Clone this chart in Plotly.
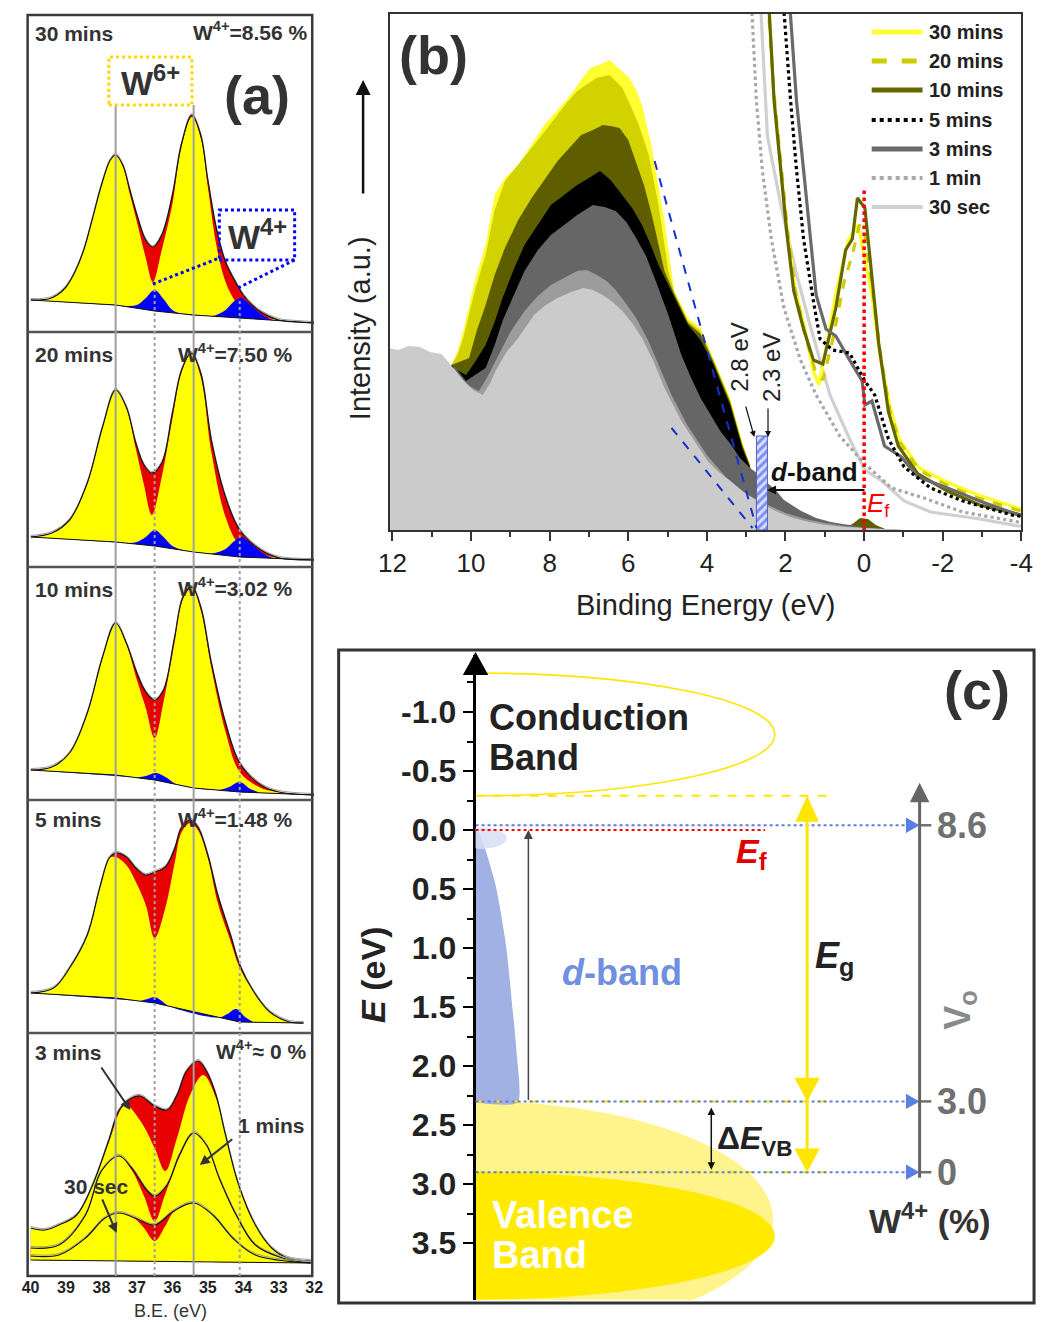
import plotly.graph_objects as go

W, H = 1048, 1322
FONT = "Liberation Sans, Arial, sans-serif"

def X(px):
    return px / W

def Y(py):
    return 1 - py / H

# ======================= DATA =======================
# ---------- Panel (a): W 4f XPS (B.E. in eV, intensity a.u.) ----------
# 30 mins
A30M_ENV_E = [40.0, 39.75, 39.5, 39.25, 39.0, 38.75, 38.5, 38.25, 38.0, 37.75, 37.6, 37.4, 37.2, 37.0, 36.75, 36.55, 36.3, 36.0, 35.75, 35.45, 35.2, 35.0, 34.75, 34.5, 34.25, 34.0, 33.75, 33.5, 33.0, 32.5, 32.0]
A30M_ENV_I = [32, 32, 33, 37, 45, 60, 82, 114, 147, 172, 177, 167, 142, 117, 92, 85, 97, 137, 187, 217, 197, 152, 102, 70, 52, 37, 27, 20, 12, 10, 9]
A30M_W6_I = [32, 32, 33, 37, 45, 60, 82, 114, 147, 172, 177, 166, 138, 110, 74, 50, 82, 128, 184, 215, 194, 145, 85, 50, 32, 22, 17, 15, 12, 10, 9]
A30M_BASE_E = [40.0, 37.6, 36.5, 35.4, 34.1, 33.0, 32.0]
A30M_BASE_I = [32, 27, 21, 17, 14, 11, 9]
A30M_W4_E = [37.3, 37.0, 36.75, 36.5, 36.25, 36.0, 35.7, 35.0, 34.8, 34.5, 34.25, 34.05, 33.8, 33.5, 33.2, 32.9]
A30M_W4_I = [26, 27, 34, 42, 33, 22, 18, 16, 16.5, 22, 31, 34, 27, 18, 12.5, 11]
# 20 mins
A20M_ENV_E = [40.0, 39.4, 38.9, 38.4, 37.97, 37.6, 37.3, 37.03, 36.8, 36.58, 36.3, 36.0, 35.74, 35.47, 35.2, 34.9, 34.5, 34.1, 33.5, 32.97, 32.0]
A20M_ENV_I = [30, 34, 47, 84, 140, 177, 160, 124, 102, 94, 104, 154, 197, 214, 194, 127, 70, 37, 17, 9, 7]
A20M_W6_I = [30, 34, 47, 84, 140, 177, 159, 118, 82, 52, 90, 148, 195, 213, 190, 115, 50, 22, 13, 9, 7]
A20M_BASE_E = [40.0, 37.6, 36.5, 35.4, 34.1, 32.0]
A20M_BASE_I = [30, 25, 21, 15, 10, 7]
A20M_W4_E = [37.3, 37.0, 36.75, 36.5, 36.25, 36.0, 35.7, 35.0, 34.8, 34.5, 34.25, 34.05, 33.8, 33.5, 33.2, 32.9]
A20M_W4_I = [24, 25, 30, 37, 30, 21, 17, 13.5, 14, 18, 26, 30, 24, 15, 9.5, 8]
# 10 mins
A10M_ENV_E = [40.0, 39.4, 38.9, 38.4, 37.97, 37.6, 37.3, 37.0, 36.75, 36.5, 36.25, 35.95, 35.7, 35.45, 35.2, 34.9, 34.5, 34.1, 33.5, 33.0, 32.0]
A10M_ENV_I = [30, 33, 47, 87, 143, 177, 157, 127, 108, 100, 110, 160, 203, 213, 193, 137, 77, 37, 15, 8, 5]
A10M_W6_I = [30, 33, 47, 87, 143, 177, 156, 120, 92, 62, 98, 155, 201, 212, 190, 132, 68, 28, 12, 8, 5]
A10M_BASE_E = [40.0, 37.6, 36.5, 35.4, 34.1, 32.0]
A10M_BASE_I = [30, 25, 20, 12, 8, 5]
A10M_W4_E = [37.0, 36.75, 36.45, 36.15, 35.9, 34.7, 34.4, 34.1, 33.8, 33.5]
A10M_W4_I = [22.5, 24, 27, 22, 16, 10, 13, 18, 11, 7]
# 5 mins
A5M_ENV_E = [40.0, 39.35, 38.9, 38.4, 38.05, 37.78, 37.6, 37.3, 37.03, 36.75, 36.5, 36.2, 35.93, 35.75, 35.5, 35.28, 35.0, 34.72, 34.36, 34.1, 33.7, 33.25, 32.7, 32.3]
A5M_ENV_I = [40, 45, 65, 98, 145, 175, 180, 176, 165, 158, 161, 166, 185, 205, 213, 206, 178, 138, 98, 68, 41, 21, 11, 10]
A5M_W6_I = [40, 45, 65, 98, 145, 175, 176, 168, 151, 128, 95, 125, 171, 200, 210, 203, 175, 130, 92, 65, 41, 21, 11, 10]
A5M_BASE_E = [40.0, 37.6, 36.5, 35.4, 34.1, 32.3]
A5M_BASE_I = [40, 35, 30, 21, 11, 10]
A5M_W4_E = [36.9, 36.7, 36.5, 36.3, 36.1, 34.7, 34.45, 34.2, 33.95, 33.7]
A5M_W4_I = [32, 34, 36, 32, 27, 15.5, 19, 24, 16, 10.5]
# 3 mins / 1 min / 30 sec (same sub-panel)
ALOW_BASE_E = [40.0, 32.1]
ALOW_BASE_I = [16, 13]
A3M_ENV_E = [40.0, 39.6, 39.2, 38.7, 38.25, 37.8, 37.5, 37.15, 36.9, 36.5, 36.15, 35.87, 35.6, 35.27, 35.04, 34.77, 34.5, 34.13, 33.66, 33.2, 32.75, 32.1]
A3M_ENV_I = [48, 46, 51, 61, 91, 135, 166, 178, 180, 170, 166, 181, 205, 215, 205, 181, 141, 91, 51, 28, 18, 15]
A3M_W6_E = [40.0, 39.6, 39.2, 38.7, 38.25, 37.8, 37.33, 36.9, 36.5, 36.2, 35.87, 35.5, 35.13, 34.77, 34.5, 34.13, 33.66, 33.2, 32.75, 32.1]
A3M_W6_I = [48, 46, 51, 61, 91, 133, 171, 155, 128, 105, 138, 181, 201, 178, 141, 91, 51, 28, 18, 15]
A1M_ENV_E = [40.0, 39.2, 38.45, 38.0, 37.5, 37.15, 36.7, 36.5, 36.15, 35.8, 35.4, 35.04, 34.68, 34.2, 33.66, 32.9, 32.1]
A1M_ENV_I = [28, 31, 61, 105, 120, 108, 85, 80, 91, 121, 143, 131, 98, 61, 31, 18, 13]
A1M_W6_E = [40.0, 39.2, 38.45, 38.0, 37.5, 37.15, 36.8, 36.5, 36.2, 35.8, 35.4, 35.04, 34.68, 34.2, 33.66, 32.9, 32.1]
A1M_W6_I = [28, 31, 61, 105, 120, 106, 80, 55, 82, 119, 143, 131, 98, 61, 31, 18, 13]
A30S_ENV_E = [40.0, 39.2, 38.45, 37.9, 37.5, 37.05, 36.5, 35.96, 35.4, 34.86, 34.3, 33.66, 32.1]
A30S_ENV_I = [20, 21, 38, 58, 63, 58, 51, 65, 73, 61, 38, 21, 13]
A30S_W6_E = [40.0, 39.2, 38.45, 37.9, 37.5, 37.05, 36.8, 36.5, 36.2, 35.96, 35.4, 34.86, 34.3, 33.66, 32.1]
A30S_W6_I = [20, 21, 38, 58, 63, 57, 48, 35, 50, 64, 73, 61, 38, 21, 13]

A_W6_POS = [37.6, 35.4]     # W6+ peak reference lines (solid)
A_W4_POS = [36.5, 34.1]     # W4+ peak reference lines (dotted)
A_TICKS = [40, 39, 38, 37, 36, 35, 34, 33, 32]
A_LABELS = ["30 mins", "20 mins", "10 mins", "5 mins", "3 mins"]
A_W4_TEXT = ["W<sup>4+</sup>=8.56 %", "W<sup>4+</sup>=7.50 %", "W<sup>4+</sup>=3.02 %",
             "W<sup>4+</sup>=1.48 %", "W<sup>4+</sup>\u2248 0 %"]

# ---------- Panel (b): valence-band spectra ----------
B_30S_E = [12.1, 11.85, 11.6, 11.3, 11.05, 10.75, 10.45, 10.2, 9.95, 9.7, 9.5, 9.38, 9.1, 8.8, 8.4, 8.1, 7.8, 7.45, 7.15, 6.9, 6.65, 6.4, 6.15, 5.9, 5.65, 5.35, 5.08, 4.65, 4.3, 3.98, 3.7, 3.4, 3.1, 2.84, 2.5, 2.2, 1.8, 1.4, 1.0, 0.5, 0.0, -0.5, -1.0, -4.1]
B_30S_I = [182, 180, 184, 183, 178, 176, 162, 150, 140, 135, 148, 159, 178, 192, 215, 225, 232, 238, 242, 240, 235, 228, 219, 207, 192, 168, 142, 109, 88, 69, 58, 49, 39, 32, 24, 18, 12, 8, 5, 3, 2, 1, 0, 0]
B_1M_E = [10.45, 10.2, 9.95, 9.8, 9.6, 9.3, 9.0, 8.64, 8.3, 7.97, 7.6, 7.3, 7.05, 6.8, 6.55, 6.3, 6.05, 5.8, 5.5, 5.2, 4.9, 4.5, 4.0, 3.5, 3.0, 2.5, 2.0, 1.5, 1.0, 0.5, 0.0, -0.8]
B_1M_I = [162, 148, 142, 139, 152, 175, 198, 219, 234, 245, 253, 259, 260, 255, 249, 239, 226, 212, 190, 163, 135, 105, 75, 52, 36, 26, 17, 11, 7, 4, 2, 0]
B_3M_E = [10.45, 10.13, 9.9, 9.63, 9.4, 9.2, 8.9, 8.64, 8.3, 7.97, 7.6, 7.3, 6.9, 6.6, 6.32, 6.05, 5.8, 5.55, 5.33, 4.98, 4.65, 4.4, 4.16, 3.9, 3.66, 3.4, 3.16, 2.9, 2.66, 2.46, 2.25, 2.04, 1.6, 1.22, 0.85, 0.55, 0.2, 0.0, -0.5, -1.0]
B_3M_I = [165, 149, 155, 162, 185, 209, 236, 259, 280, 295, 306, 315, 325, 323, 319, 308, 292, 274, 252, 215, 175, 152, 132, 115, 99, 86, 72, 62, 55, 47, 40, 30, 19, 12, 8, 6, 4, 3, 1, 0]
B_5M_E = [10.5, 10.35, 10.13, 9.9, 9.63, 9.4, 9.2, 8.9, 8.64, 8.3, 7.97, 7.6, 7.3, 7.0, 6.72, 6.45, 6.15, 5.9, 5.65, 5.45, 5.23, 4.9, 4.48, 4.16, 3.83, 3.41, 3.1, 2.9, 2.85]
B_5M_I = [165, 160, 155, 168, 185, 208, 232, 262, 285, 306, 325, 336, 345, 352, 359, 350, 335, 322, 305, 287, 265, 239, 205, 190, 165, 125, 82, 62, 0]
B_10M_E = [10.5, 10.3, 10.05, 9.85, 9.63, 9.4, 9.14, 8.8, 8.46, 8.1, 7.8, 7.5, 7.2, 6.9, 6.65, 6.45, 6.22, 6.0, 5.82, 5.6, 5.4, 5.08, 4.83, 4.48, 4.16, 3.83, 3.41, 3.1, 2.9, 2.85, 0.6, 0.3, 0.1, -0.1, -0.3, -0.6]
B_10M_I = [165, 168, 172, 200, 225, 255, 282, 310, 332, 352, 369, 382, 395, 400, 405, 404, 402, 390, 369, 345, 315, 259, 236, 207, 196, 168, 128, 85, 64, 0, 0, 6, 12, 11, 5, 0]
B_20M_E = [10.5, 10.35, 10.2, 9.9, 9.63, 9.4, 9.14, 8.8, 8.46, 8.1, 7.8, 7.55, 7.3, 7.05, 6.82, 6.47, 6.15, 5.95, 5.73, 5.48, 5.23, 4.98, 4.83, 4.48, 4.16, 3.83, 3.41, 3.1, 2.9, 2.85]
B_20M_I = [165, 175, 192, 240, 275, 320, 349, 365, 382, 400, 415, 428, 439, 446, 452, 455, 442, 425, 405, 375, 325, 259, 238, 209, 199, 170, 130, 86, 65, 0]
B_30M_E = [10.5, 10.35, 10.2, 9.9, 9.63, 9.4, 9.14, 8.8, 8.47, 8.14, 7.8, 7.47, 7.2, 6.97, 6.7, 6.47, 6.2, 5.97, 5.8, 5.65, 5.4, 5.2, 5.08, 4.83, 4.48, 4.16, 3.83, 3.41, 3.1, 2.9, 2.85]
B_30M_I = [165, 178, 199, 250, 285, 335, 352, 365, 385, 405, 420, 435, 450, 462, 466, 470, 460, 452, 440, 425, 382, 335, 309, 239, 212, 202, 172, 132, 88, 65, 0]

# magnified near-Ef traces
L_30M_E = [2.43, 2.3, 2.12, 1.95, 1.75, 1.5, 1.3, 1.15, 1.0, 0.7, 0.4, 0.15, 0.0, -0.2, -0.4, -0.65, -0.9, -1.4, -2.1, -2.9, -3.9, -4.1]
L_30M_I = [530, 435, 362, 298, 240, 200, 160, 145, 175, 240, 290, 305, 275, 235, 175, 125, 90, 62, 48, 35, 22, 20]
L_20M_E = [2.45, 2.3, 2.12, 1.95, 1.75, 1.5, 1.25, 1.05, 0.8, 0.5, 0.3, 0.12, 0.0, -0.2, -0.4, -0.65, -0.9, -1.4, -2.1, -2.9, -3.9, -4.1]
L_20M_I = [530, 440, 368, 300, 240, 195, 160, 150, 190, 250, 275, 305, 300, 245, 180, 120, 88, 60, 45, 32, 20, 18]
L_10M_E = [2.43, 2.29, 2.12, 1.97, 1.79, 1.54, 1.29, 1.05, 0.72, 0.47, 0.3, 0.17, -0.02, -0.2, -0.37, -0.62, -0.87, -1.37, -2.12, -2.94, -3.93, -4.1]
L_10M_I = [530, 429, 360, 298, 239, 201, 170, 166, 222, 280, 291, 332, 322, 256, 187, 118, 84, 56, 39, 25, 15, 14]
L_5M_E = [2.06, 1.87, 1.72, 1.54, 1.29, 1.12, 0.8, 0.37, -0.02, -0.27, -0.62, -1.02, -1.69, -2.51, -3.76, -4.1]
L_5M_I = [530, 429, 360, 291, 229, 191, 180, 177, 149, 135, 91, 63, 42, 29, 15, 13]
L_3M_E = [1.9, 1.72, 1.54, 1.37, 1.22, 0.97, 0.72, 0.37, 0.05, -0.02, -0.2, -0.52, -0.95, -1.37, -2.12, -2.94, -3.93, -4.1]
L_3M_I = [530, 429, 360, 291, 235, 201, 194, 170, 149, 125, 129, 84, 73, 53, 42, 29, 15, 14]
L_1M_E = [2.87, 2.74, 2.59, 2.36, 2.04, 1.62, 1.22, 0.62, -0.02, -0.7, -1.52, -2.51, -3.93, -4.1]
L_1M_I = [530, 429, 360, 291, 222, 170, 135, 94, 66, 42, 32, 18, 8, 7]
L_30S_E = [2.64, 2.46, 2.12, 1.72, 1.37, 0.87, 0.37, -0.02, -0.45, -1.02, -1.69, -2.94, -3.93, -4.1]
L_30S_I = [530, 394, 325, 256, 204, 135, 91, 60, 49, 29, 18, 11, 4, 4]

B_SERIES = ["30 mins", "20 mins", "10 mins", "5 mins", "3 mins", "1 min", "30 sec"]
B_FILL_COLORS = ["#ffff33", "#d2d200", "#5e5e00", "#000000", "#666666", "#9c9c9c", "#cbcbcb"]
B_LINE_COLORS = ["#ffff22", "#cccc00", "#666600", "#000000", "#6a6a6a", "#a8a8a8", "#d0d0d0"]
B_LINE_DASH = ["solid", "dash", "solid", "dot", "solid", "dot", "solid"]
B_TICKS = [12, 10, 8, 6, 4, 2, 0, -2, -4]
B_DBAND_E = [2.74, 2.46]      # hatched d-band onset window
B_DBAND_TOP = 94
B_EDGE1_E = [5.33, 2.74]      # leading-edge extrapolations
B_EDGE1_I = [369, 2]
B_EDGE2_E = [4.90, 2.84]
B_EDGE2_I = [102, 2]
B_EF_TOP = 340

# ---------- Panel (c): band diagram (E in eV, x = DOS a.u.) ----------
C_TICKS = [-1.0, -0.5, 0.0, 0.5, 1.0, 1.5, 2.0, 2.5, 3.0, 3.5]
C_CB = dict(top=-1.33, bottom=-0.29, width=306)
C_VB_LIGHT = dict(top=2.30, center=3.30, width=304)
C_VB_DARK = dict(top=2.90, center=3.44, width=306)
C_DBAND_X = [0, 4, 20, 31, 38, 42, 43, 0]
C_DBAND_E = [0.0, 0.03, 0.45, 0.97, 1.53, 1.89, 2.31, 2.31]
C_EF = 0.0
C_CBM = -0.29
C_LEVELS_E = [-0.04, 2.30, 2.90]        # dotted blue levels
C_W4_LABELS = ["8.6", "3.0", "0"]
C_VBM = [2.30, 2.90]

# ======================= FIGURE =======================
fig = go.Figure()

A_SUB = [("y", 15, 332), ("y2", 332, 567), ("y3", 567, 800), ("y4", 800, 1033), ("y5", 1033, 1276)]

RED = "#e80000"
YEL = "#ffff00"
BLU = "#0000ff"


def hidden(xs, ys, yref):
    fig.add_trace(go.Scatter(x=xs, y=ys, mode="lines", line=dict(width=0, color="rgba(0,0,0,0)"),
                             xaxis="x", yaxis=yref, showlegend=False, hoverinfo="skip"))


def filled(xs, ys, color, yref, bE, bI, shape="spline"):
    hidden(bE, bI, yref)
    fig.add_trace(go.Scatter(x=xs, y=ys, mode="lines", line=dict(width=0, color=color, shape=shape),
                             fill="tonexty", fillcolor=color, xaxis="x", yaxis=yref,
                             showlegend=False, hoverinfo="skip"))


def line(xs, ys, yref, color="#111", width=1.2, shape="spline"):
    fig.add_trace(go.Scatter(x=xs, y=ys, mode="lines", line=dict(width=width, color=color, shape=shape),
                             xaxis="x", yaxis=yref, showlegend=False, hoverinfo="skip"))


A_STD = [
    (A30M_ENV_E, A30M_ENV_I, A30M_ENV_E, A30M_W6_I, A30M_BASE_E, A30M_BASE_I, A30M_W4_E, A30M_W4_I),
    (A20M_ENV_E, A20M_ENV_I, A20M_ENV_E, A20M_W6_I, A20M_BASE_E, A20M_BASE_I, A20M_W4_E, A20M_W4_I),
    (A10M_ENV_E, A10M_ENV_I, A10M_ENV_E, A10M_W6_I, A10M_BASE_E, A10M_BASE_I, A10M_W4_E, A10M_W4_I),
    (A5M_ENV_E, A5M_ENV_I, A5M_ENV_E, A5M_W6_I, A5M_BASE_E, A5M_BASE_I, A5M_W4_E, A5M_W4_I),
]
for k, (eE, eI, wE, wI, bE, bI, fE, fI) in enumerate(A_STD):
    yref = A_SUB[k][0]
    filled(eE, eI, RED, yref, bE, bI)
    filled(wE, wI, YEL, yref, bE, bI)
    filled(fE, fI, BLU, yref, bE, bI)
    line(eE, [v + 1.5 for v in eI], yref, color="#9a9a9a", width=1)
    line(eE, eI, yref, color="#111", width=1.2)
    line(bE, bI, yref, color="#111", width=1.0, shape="linear")

LOW = [(A3M_ENV_E, A3M_ENV_I, A3M_W6_E, A3M_W6_I),
       (A1M_ENV_E, A1M_ENV_I, A1M_W6_E, A1M_W6_I),
       (A30S_ENV_E, A30S_ENV_I, A30S_W6_E, A30S_W6_I)]
for eE, eI, wE, wI in LOW:
    filled(eE, eI, RED, "y5", ALOW_BASE_E, ALOW_BASE_I)
    filled(wE, wI, YEL, "y5", ALOW_BASE_E, ALOW_BASE_I)
for eE, eI, wE, wI in LOW:
    line(eE, [v + 1.5 for v in eI], "y5", color="#9a9a9a", width=1)
    line(eE, eI, "y5", color="#111", width=1.2)
line(ALOW_BASE_E, ALOW_BASE_I, "y5", color="#111", width=1.0, shape="linear")

# ---------- panel (b) traces ----------
B_FILLS = [(B_30M_E, B_30M_I), (B_20M_E, B_20M_I), (B_10M_E, B_10M_I), (B_5M_E, B_5M_I),
           (B_3M_E, B_3M_I), (B_1M_E, B_1M_I), (B_30S_E, B_30S_I)]
for (e, i), c in zip(B_FILLS, B_FILL_COLORS):
    fig.add_trace(go.Scatter(x=e, y=i, mode="lines", line=dict(width=0, color=c), fill="tozeroy",
                             fillcolor=c, xaxis="x2", yaxis="y6", showlegend=False, hoverinfo="skip"))

fig.add_trace(go.Scatter(
    x=[B_DBAND_E[0], B_DBAND_E[1], B_DBAND_E[1], B_DBAND_E[0], B_DBAND_E[0]],
    y=[0, 0, B_DBAND_TOP, B_DBAND_TOP, 0], mode="lines", fill="toself",
    fillcolor="#dfe5ff",
    fillpattern=dict(shape="/", fgcolor="#1f3cf0", bgcolor="#d8e0ff", size=6, solidity=0.5),
    line=dict(color="#5060c0", width=1), xaxis="x2", yaxis="y6", showlegend=False, hoverinfo="skip"))

B_LINES = [(L_30M_E, L_30M_I), (L_20M_E, L_20M_I), (L_10M_E, L_10M_I), (L_5M_E, L_5M_I),
           (L_3M_E, L_3M_I), (L_1M_E, L_1M_I), (L_30S_E, L_30S_I)]
order = [6, 5, 0, 1, 2, 4, 3]
for j in order:
    e, i = B_LINES[j]
    fig.add_trace(go.Scatter(x=e, y=i, mode="lines",
                             line=dict(width=3.2, color=B_LINE_COLORS[j], dash=B_LINE_DASH[j]),
                             xaxis="x2", yaxis="y6", showlegend=False, hoverinfo="skip"))

# ---------- panel (c) traces ----------
fig.add_trace(go.Scatter(x=C_DBAND_X, y=C_DBAND_E, mode="lines", fill="toself", fillcolor="#a1b1e4",
                         line=dict(width=0, color="#a1b1e4", shape="spline", smoothing=0.6),
                         xaxis="x3", yaxis="y7", showlegend=False, hoverinfo="skip"))

# ======================= SHAPES =======================
shapes = []


def pline(x0, y0, x1, y1, color, width, dash="solid", layer="above"):
    shapes.append(dict(type="line", xref="paper", yref="paper", x0=X(x0), y0=Y(y0), x1=X(x1), y1=Y(y1),
                       line=dict(color=color, width=width, dash=dash), layer=layer))


# panel (a) frames
shapes.append(dict(type="rect", xref="paper", yref="paper", x0=X(17), x1=X(308), y0=Y(1276), y1=Y(15),
                   line=dict(color="#3a3a3a", width=2.5), layer="above"))
for _, top, bot in A_SUB[:-1]:
    pline(17, bot, 308, bot, "#555", 2.5)
# reference lines (a)
for e in A_W6_POS:
    shapes.append(dict(type="line", xref="x", yref="paper", x0=e, x1=e, y0=Y(1276), y1=Y(105),
                       line=dict(color="#a0a0a0", width=2), layer="above"))
for e, top in zip(A_W4_POS, [285, 300]):
    shapes.append(dict(type="line", xref="x", yref="paper", x0=e, x1=e, y0=Y(1276), y1=Y(top),
                       line=dict(color="#a0a0a0", width=2, dash="dot"), layer="above"))
# W6+ / W4+ boxes
shapes.append(dict(type="rect", xref="paper", yref="paper", x0=X(100), x1=X(185), y0=Y(105), y1=Y(57),
                   line=dict(color="#ffd800", width=3, dash="dot"), layer="above"))
shapes.append(dict(type="rect", xref="paper", yref="paper", x0=X(213), x1=X(290), y0=Y(260), y1=Y(210),
                   line=dict(color=BLU, width=3, dash="dot"), layer="above"))
pline(145, 284, 213, 258, BLU, 3, "dot")
pline(290, 260, 232, 288, BLU, 3, "dot")

# panel (b) helpers
shapes.append(dict(type="line", xref="x2", yref="y6", x0=0, x1=0, y0=0, y1=B_EF_TOP,
                   line=dict(color="#ff0000", width=3.5, dash="dot"), layer="above"))
for (e, i) in [(B_EDGE1_E, B_EDGE1_I), (B_EDGE2_E, B_EDGE2_I)]:
    shapes.append(dict(type="line", xref="x2", yref="y6", x0=e[0], x1=e[1], y0=i[0], y1=i[1],
                       line=dict(color="#1530d0", width=2, dash="dash"), layer="above"))

# legend (b)
LEG_Y = [32, 61, 90, 120, 149, 178, 207]
LEG_W = [5, 5, 5, 4, 5, 4, 4]
for j, ly in enumerate(LEG_Y):
    pline(880, ly, 932, ly, B_LINE_COLORS[j] if j != 0 else "#ffff33", LEG_W[j], B_LINE_DASH[j])

# panel (c) frame
shapes.append(dict(type="rect", xref="paper", yref="paper", x0=X(335), x1=X(1046), y0=Y(1303), y1=Y(650),
                   line=dict(color="#333", width=3), layer="above"))
# axis arrow head (c), paper coordinates so it is not clipped
shapes.append(dict(type="path", xref="paper", yref="paper",
                   path=f"M {X(475)},{Y(652)} L {X(462)},{Y(675)} L {X(488)},{Y(675)} Z",
                   fillcolor="#000", line=dict(width=0), layer="above"))
KAP = 0.5523


def half_ellipse(top, center, width):
    h = center - top
    return (f"M 0,{top} C {KAP*width},{top} {width},{center-KAP*h} {width},{center} "
            f"C {width},{center+KAP*h} {KAP*width},{center+h} 0,{center+h}")


shapes.append(dict(type="path", xref="x3", yref="y7",
                   path=half_ellipse(C_VB_LIGHT["top"], C_VB_LIGHT["center"], C_VB_LIGHT["width"]) + " Z",
                   fillcolor="#fff48c", line=dict(width=0), layer="below"))
shapes.append(dict(type="path", xref="x3", yref="y7",
                   path=half_ellipse(C_VB_DARK["top"], C_VB_DARK["center"], C_VB_DARK["width"]) + " Z",
                   fillcolor="#ffea00", line=dict(width=0), layer="below"))
cb_c = (C_CB["top"] + C_CB["bottom"]) / 2
shapes.append(dict(type="path", xref="x3", yref="y7",
                   path=half_ellipse(C_CB["top"], cb_c, C_CB["width"]),
                   line=dict(color="#ffe600", width=1.6), layer="below"))
shapes.append(dict(type="circle", xref="x3", yref="y7", x0=-20, x1=32, y0=-0.02, y1=0.16,
                   fillcolor="rgba(215,223,245,0.85)", line=dict(width=0), layer="above"))


def dline(x0, y0, x1, y1, color, width, dash="solid"):
    shapes.append(dict(type="line", xref="x3", yref="y7", x0=x0, y0=y0, x1=x1, y1=y1,
                       line=dict(color=color, width=width, dash=dash), layer="above"))


def tri(tipx, tipy, bx0, by0, bx1, by1, color):
    shapes.append(dict(type="path", xref="x3", yref="y7",
                       path=f"M {tipx},{tipy} L {bx0},{by0} L {bx1},{by1} Z",
                       fillcolor=color, line=dict(width=0), layer="above"))


dline(0, C_CBM, 359, C_CBM, "#ffe600", 2, "dash")
for e in C_VBM:
    dline(0, e, 359, e, "#ffe600", 2, "dash")
dline(0, C_EF, 296, C_EF, "#ff0000", 2, "dot")
for e in C_LEVELS_E:
    dline(0, e, 442, e, "#5b7fe0", 2, "dot")
    tri(454, e, 440, e - 0.065, 440, e + 0.065, "#5b7fe0")
    dline(454, e, 466, e, "#707070", 2.5)
# Eg arrow (yellow)
dline(339, C_CBM + 0.15, 339, C_VBM[1] - 0.1, "#ffe600", 3)
tri(339, C_CBM, 327, C_CBM + 0.22, 351, C_CBM + 0.22, "#ffe600")
for e in C_VBM:
    tri(339, e, 326, e - 0.2, 352, e - 0.2, "#ffe600")

# ======================= ANNOTATIONS =======================
anns = []


def txt(text, px, py, size, color="#333", xanchor="center", bold=True, angle=0, yanchor="middle"):
    t = f"<b>{text}</b>" if bold else text
    anns.append(dict(text=t, x=X(px), y=Y(py), xref="paper", yref="paper", showarrow=False,
                     xanchor=xanchor, yanchor=yanchor, textangle=angle,
                     font=dict(family=FONT, size=size, color=color)))


def arrow(hx, hy, ax, ay, color="#333", width=2, head=2, size=1.0):
    anns.append(dict(text="", x=X(hx), y=Y(hy), xref="paper", yref="paper", ax=ax, ay=ay,
                     showarrow=True, arrowhead=head, arrowwidth=width, arrowsize=size, arrowcolor=color))


# panel (a)
A_LABEL_Y = [33, 355, 589, 820, 1052]
A_W4_X = [306, 290, 290, 290, 304]
for k in range(5):
    txt(A_LABELS[k], 22, A_LABEL_Y[k], 21, xanchor="left")
    txt(A_W4_TEXT[k], A_W4_X[k], A_LABEL_Y[k] - 2, 21, xanchor="right")
txt("W<sup>6+</sup>", 143, 80, 34)
txt("W<sup>4+</sup>", 252, 235, 34)
txt("(a)", 252, 95, 54)
txt("1 mins", 266, 1125, 21)
txt("30 sec", 87, 1186, 21)
arrow(122, 1110, -30, -44, color="#333", width=2)
arrow(193, 1165, 34, -27, color="#333", width=2)
arrow(108, 1233, -15, -35, color="#333", width=2)
txt("B.E. (eV)", 163, 1311, 18, bold=False)

# panel (b)
txt("(b)", 432, 55, 54)
txt("Intensity (a.u.)", 357, 328, 29, color="#222", bold=False, angle=-90)
arrow(360, 80, 0, 115, color="#111", width=2.5, head=2, size=1.2)
txt("Binding Energy (eV)", 711, 605, 29, color="#222", bold=False)
txt("2.8 eV", 745, 357, 24, color="#222", bold=False, angle=-90)
txt("2.3 eV", 777, 367, 24, color="#222", bold=False, angle=-90)
arrow(760, 437, -9, -32, color="#111", width=1.2, head=2)
arrow(774, 437, 0, -30, color="#111", width=1.2, head=2)
txt("<i>d</i>-band", 822, 472, 26, color="#111")
arrow(773, 490, 99, 0, color="#111", width=2, head=2, size=0.9)
txt("<i>E</i><sub>f</sub>", 887, 505, 26, color="#ff0000", bold=False)
for j, ly in enumerate(LEG_Y):
    txt(B_SERIES[j], 937, ly, 20, color="#222", xanchor="left")

# panel (c)
txt("(c)", 988, 690, 54)
txt("<i>E</i> (eV)", 370, 975, 34, color="#222", angle=-90)
txt("Conduction", 487, 717, 36, color="#222", xanchor="left")
txt("Band", 487, 757, 36, color="#222", xanchor="left")
txt("Valence", 490, 1215, 38, color="#ffffff", xanchor="left")
txt("Band", 490, 1255, 38, color="#ffffff", xanchor="left")
txt("<i>E</i><sub>f</sub>", 757, 853, 34, color="#e00000")
txt("<i>d</i>-band", 625, 972, 36, color="#6f8fe0")
txt("<i>E</i><sub>g</sub>", 842, 958, 36, color="#222")
txt("\u0394<i>E</i><sub>VB</sub>", 720, 1140, 32, color="#222", xanchor="left")
txt("V<sub>o</sub>", 970, 1010, 36, color="#8a8a8a", angle=-90)
txt("W<sup>4+</sup> (%)", 940, 1218, 34, color="#333")
for lab, e in zip(C_W4_LABELS, C_LEVELS_E):
    anns.append(dict(text=f"<b>{lab}</b>", x=470, y=e, xref="x3", yref="y7", showarrow=False,
                     xanchor="left", yanchor="middle", font=dict(family=FONT, size=36, color="#707070")))
# arrows in (c)
anns.append(dict(text="", x=54, y=C_EF, ax=54, ay=C_VBM[0], xref="x3", yref="y7", axref="x3", ayref="y7",
                 showarrow=True, arrowhead=2, arrowwidth=1.5, arrowsize=1.2, arrowcolor="#444"))
anns.append(dict(text="", x=241, y=C_VBM[1] - 0.02, ax=241, ay=C_VBM[0] + 0.04, xref="x3", yref="y7",
                 axref="x3", ayref="y7", showarrow=True, arrowhead=2, startarrowhead=2, arrowside="end+start",
                 arrowwidth=1.5, arrowsize=1, arrowcolor="#111"))
anns.append(dict(text="", x=454, y=-0.40, ax=454, ay=2.96, xref="x3", yref="y7", axref="x3", ayref="y7",
                 showarrow=True, arrowhead=2, arrowwidth=3, arrowsize=1.3, arrowcolor="#666666"))

# ======================= LAYOUT =======================
layout = dict(
    width=W, height=H, margin=dict(l=0, r=0, t=0, b=0),
    paper_bgcolor="white", plot_bgcolor="rgba(0,0,0,0)",
    showlegend=False, font=dict(family=FONT, color="#222"),
    shapes=shapes, annotations=anns,
    xaxis=dict(domain=[X(20), X(310)], range=[40, 32], anchor="y5", tickvals=A_TICKS,
               ticks="", showline=False, showgrid=False, zeroline=False,
               tickfont=dict(family=FONT, size=16, color="#222", weight="bold")),
    xaxis2=dict(domain=[X(387), X(1033)], range=[12.075, -4.0], anchor="y6", tickvals=B_TICKS,
                ticktext=[str(t) for t in B_TICKS], ticks="outside", ticklen=9, tickwidth=2,
                tickcolor="#333", showline=True, linewidth=2, linecolor="#333", mirror=True,
                showgrid=False, zeroline=False,
                minor=dict(tickvals=[11, 9, 7, 5, 3, 1, -1, -3], ticks="outside", ticklen=5,
                           tickwidth=1.5, tickcolor="#333"),
                tickfont=dict(family=FONT, size=26, color="#222")),
    yaxis6=dict(domain=[Y(530), Y(14)], range=[0, 516], anchor="x2", showline=True, linewidth=2,
                linecolor="#333", mirror=True, showticklabels=False, ticks="", showgrid=False,
                zeroline=False),
    xaxis3=dict(domain=[X(475), X(1046)], range=[0, 571], anchor="y7", visible=False),
    yaxis7=dict(domain=[Y(1300), Y(655)], range=[3.983, -1.483], anchor="x3", showline=True,
                linewidth=3, linecolor="#000", ticks="outside", ticklen=10, tickwidth=2,
                tickcolor="#000", tickvals=C_TICKS, ticktext=[f"{t:.1f}" for t in C_TICKS],
                showgrid=False, zeroline=False,
                minor=dict(tickvals=[t + 0.25 for t in [-1.5] + C_TICKS][:-1], ticks="outside",
                           ticklen=6, tickwidth=1.5, tickcolor="#000"),
                tickfont=dict(family=FONT, size=32, color="#222", weight="bold")),
)
for k, (yr, top, bot) in enumerate(A_SUB):
    key = "yaxis" if yr == "y" else "yaxis" + yr[1:]
    layout[key] = dict(domain=[Y(bot), Y(top)], range=[0, bot - top], anchor="x", visible=False,
                       showgrid=False, zeroline=False)

fig.update_layout(**layout)
fig.write_html("out.html")
